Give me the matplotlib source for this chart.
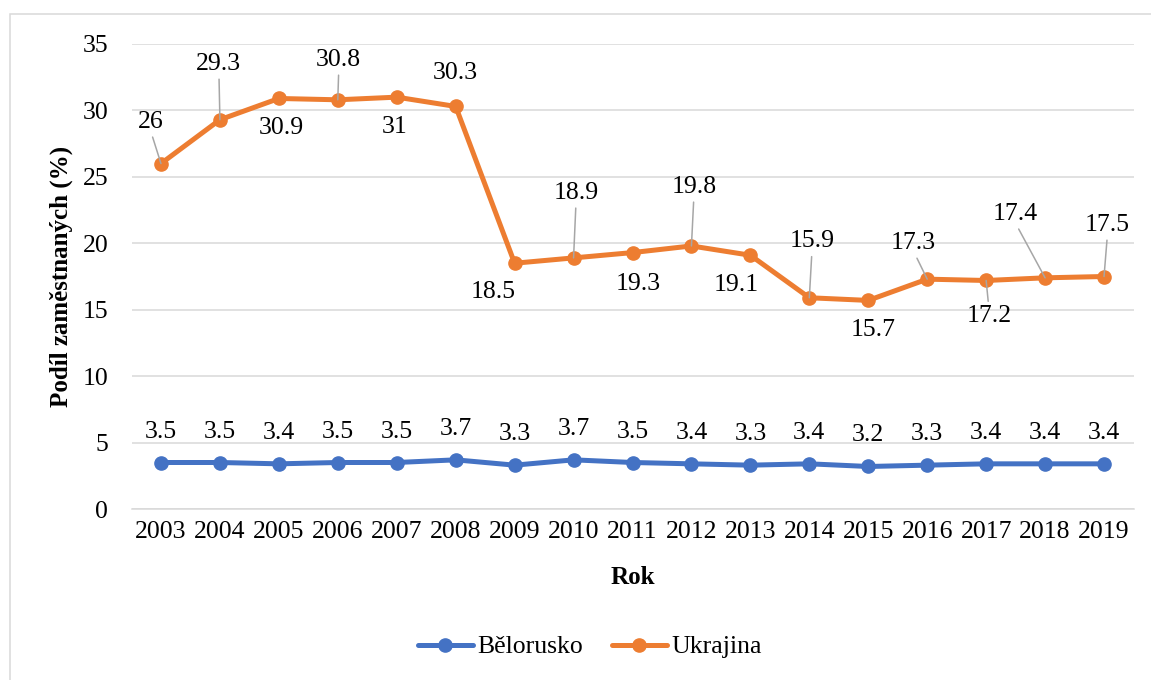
import matplotlib
matplotlib.use("Agg")
import matplotlib.pyplot as plt
from matplotlib.patches import Rectangle

years = ["2003", "2004", "2005", "2006", "2007", "2008", "2009", "2010", "2011",
         "2012", "2013", "2014", "2015", "2016", "2017", "2018", "2019"]
belarus = [3.5, 3.5, 3.4, 3.5, 3.5, 3.7, 3.3, 3.7, 3.5, 3.4, 3.3, 3.4, 3.2, 3.3, 3.4, 3.4, 3.4]
ukraine = [26, 29.3, 30.9, 30.8, 31, 30.3, 18.5, 18.9, 19.3, 19.8, 19.1, 15.9, 15.7, 17.3, 17.2, 17.4, 17.5]
yticks = [0, 5, 10, 15, 20, 25, 30, 35]

# label offsets (pixels) for Ukraine data labels and whether a leader line is drawn
ua_offsets = [(-10.5, 41.6), (-1, 55.7), (2, -29.5), (1, 39.8), (-2, -30), (0, 33.4),
              (-21.6, -28.8), (2.5, 65), (5.5, -31.4), (2.5, 59), (-13.7, -29.8),
              (2.7, 56.3), (5.4, -29.6), (-13.5, 36), (2.8, -36), (-30, 63.8), (3.5, 51.5)]
ua_leader = [True, True, False, True, False, False, False, True, False, True, False,
             True, False, True, True, True, True]

FONT = 'Liberation Serif'
plt.rcParams['font.family'] = FONT
plt.rcParams['font.serif'] = [FONT, 'DejaVu Serif']

W, H = 1151, 680
fig = plt.figure(figsize=(W / 100, H / 100), dpi=100)
ax = fig.add_axes([131.5 / W, 1 - 509 / H, 1002 / W, 465 / H])

BLUE = '#4472C4'
ORANGE = '#ED7D31'
GRID = '#D9D9D9'
FS = 18.5

x = list(range(len(years)))
ax.plot(x, belarus, color=BLUE, lw=3.6, marker='o', ms=9.5, label='Bělorusko', zorder=3,
        solid_capstyle='round')
ax.plot(x, ukraine, color=ORANGE, lw=3.6, marker='o', ms=9.5, label='Ukrajina', zorder=3,
        solid_capstyle='round')

ax.set_xlim(-0.5, len(years) - 0.5)
ax.set_ylim(0, 35)
ax.set_yticks(yticks)
ax.set_xticks(x)
ax.set_xticklabels(years, family=FONT)
ax.set_yticklabels([str(t) for t in yticks], family=FONT)
ax.tick_params(axis='both', length=0, labelsize=FS)
ax.tick_params(axis='x', pad=9)
ax.tick_params(axis='y', pad=16.7)
ax.grid(axis='y', color=GRID, lw=1.1, zorder=0)
ax.set_axisbelow(True)
for s in ['top', 'left', 'right']:
    ax.spines[s].set_visible(False)
ax.spines['bottom'].set_color(GRID)
ax.spines['bottom'].set_linewidth(1.1)

for xi, v in zip(x, belarus):
    ax.annotate(f"{v:g}", (xi, v), xytext=(0, 31), textcoords='offset pixels',
                ha='center', va='center', fontsize=FS, color='#000000', family=FONT)

for xi, v, (dx, dy), lead in zip(x, ukraine, ua_offsets, ua_leader):
    kw = {}
    if lead:
        kw['arrowprops'] = dict(arrowstyle='-', color='#A6A6A6', lw=1.1,
                                shrinkA=1, shrinkB=0,
                                relpos=(0.5, 0.12) if dy > 0 else (0.5, 0.85))
    ax.annotate(f"{v:g}", (xi, v), xytext=(dx, dy), textcoords='offset pixels',
                ha='center', va='center', fontsize=FS, color='#000000', zorder=4,
                family=FONT, **kw)

fig.text(61 / W, 1 - 276.5 / H, 'Podíl zaměstnaných (%)', rotation=90,
         ha='center', va='center', fontsize=18, fontweight='bold', family=FONT)
fig.text(632.5 / W, 1 - 578 / H, 'Rok', ha='center', va='center', fontsize=18,
         fontweight='bold', family=FONT)

fig.legend(loc='center', bbox_to_anchor=(590 / W, 1 - 647 / H), ncol=2, frameon=False,
           prop={'family': FONT, 'size': FS},
           handlelength=2.14, handletextpad=0.2, columnspacing=1.1)

fig.patches.append(Rectangle((10 / W, -0.05), 1.2, (1 - 14 / H) + 0.05, fill=False,
                             edgecolor=GRID, lw=1.1, transform=fig.transFigure))

fig.savefig('out.png', dpi=100)
